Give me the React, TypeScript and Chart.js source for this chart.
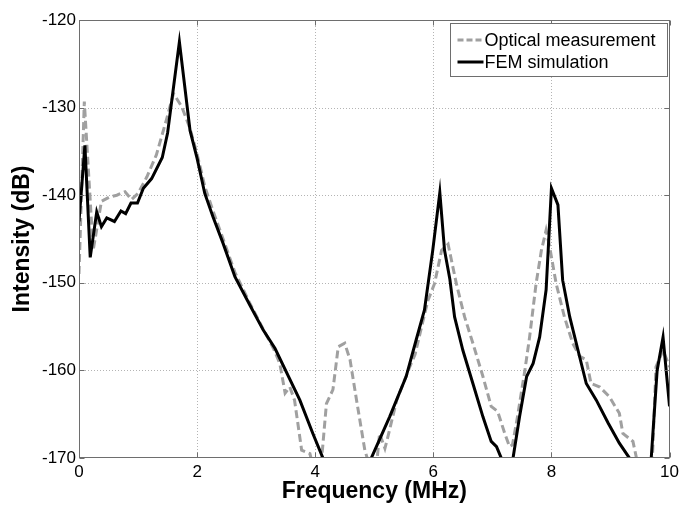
import React, { useEffect, useRef } from "react";
import { Chart, registerables } from "chart.js";

Chart.register(...registerables);

// ---- data ----
const xTicks = [0, 2, 4, 6, 8, 10];
const yTicks = [-170, -160, -150, -140, -130, -120];

const opticalLabel = "Optical measurement";
const opticalX = [0.0, 0.09, 0.24, 0.38, 0.52, 0.64, 0.78, 0.89, 1.0, 1.15, 1.31, 1.48, 1.6, 1.74, 1.88, 2.0, 2.13, 2.27, 2.44, 2.64, 2.89, 3.12, 3.3, 3.4, 3.49, 3.57, 3.65, 3.77, 3.91, 4.0, 4.11, 4.19, 4.3, 4.39, 4.5, 4.59, 4.7, 4.84, 4.88, 4.97, 5.05, 5.09, 5.18, 5.23, 5.38, 5.6, 5.69, 5.83, 5.91, 6.02, 6.14, 6.25, 6.39, 6.53, 6.67, 6.84, 6.98, 7.09, 7.21, 7.29, 7.34, 7.42, 7.55, 7.63, 7.74, 7.83, 7.91, 7.97, 8.08, 8.22, 8.36, 8.48, 8.59, 8.67, 8.82, 8.98, 9.15, 9.21, 9.38, 9.44, 9.58, 9.71, 9.77, 9.89, 10.0];
const opticalY = [-149.0, -129.3, -146.3, -140.7, -140.2, -140.0, -139.6, -140.5, -139.8, -137.9, -135.4, -131.4, -128.4, -129.9, -132.4, -135.3, -139.0, -141.8, -145.0, -148.8, -152.3, -155.3, -157.6, -159.2, -162.6, -161.9, -163.4, -169.1, -169.5, -172.0, -170.0, -163.8, -162.2, -157.3, -156.9, -158.8, -163.4, -169.1, -170.0, -173.0, -170.0, -167.2, -168.9, -167.6, -163.4, -159.6, -158.2, -154.2, -152.0, -150.1, -146.3, -145.6, -150.1, -153.9, -156.9, -160.7, -164.1, -164.7, -167.2, -168.7, -168.5, -165.5, -160.0, -156.2, -150.1, -146.3, -144.0, -145.9, -150.1, -153.9, -156.9, -158.4, -158.8, -161.5, -161.9, -163.0, -164.9, -167.2, -168.1, -170.0, -174.0, -170.0, -159.6, -157.7, -159.6];

const femLabel = "FEM simulation";
const femX = [0.0, 0.1, 0.19, 0.3, 0.38, 0.47, 0.6, 0.71, 0.79, 0.88, 0.99, 1.09, 1.23, 1.41, 1.5, 1.7, 1.88, 2.0, 2.13, 2.27, 2.44, 2.64, 2.89, 3.12, 3.32, 3.74, 3.96, 4.13, 4.3, 4.8, 4.95, 5.26, 5.54, 5.71, 5.85, 5.99, 6.11, 6.19, 6.28, 6.36, 6.5, 6.67, 6.84, 6.98, 7.07, 7.15, 7.25, 7.35, 7.46, 7.58, 7.69, 7.8, 7.91, 8.0, 8.11, 8.19, 8.31, 8.45, 8.59, 8.76, 8.96, 9.15, 9.32, 9.5, 9.69, 9.79, 9.89, 10.0];
const femY = [-143.0, -134.3, -147.1, -141.9, -143.6, -142.6, -143.0, -141.8, -142.1, -140.9, -140.9, -139.2, -138.1, -135.7, -132.9, -122.5, -132.6, -135.8, -139.8, -142.5, -145.5, -149.3, -152.5, -155.4, -157.5, -163.4, -167.2, -170.0, -174.0, -174.0, -170.0, -165.3, -160.7, -156.5, -153.1, -146.3, -139.7, -146.3, -149.6, -153.9, -157.7, -161.5, -165.3, -168.1, -168.7, -170.0, -173.0, -170.0, -165.3, -160.7, -159.2, -156.2, -150.8, -139.2, -141.1, -149.7, -153.9, -157.7, -161.5, -163.4, -166.0, -168.3, -170.0, -174.0, -170.0, -160.0, -156.2, -164.1];

const FONT = "'Liberation Sans', Arial, Helvetica, sans-serif";
const BOX = "#6e6e6e";

const toPts = (xs: number[], ys: number[]) => xs.map((x, i) => ({ x, y: ys[i] }));

const framePlugin = {
  id: "frame",
  beforeDatasetsDraw(chart: any) {
    const { ctx, chartArea, scales } = chart;
    const { left, right, top, bottom } = chartArea;
    ctx.save();
    ctx.strokeStyle = "#b4b4b4";
    ctx.lineWidth = 1;
    ctx.setLineDash([1, 2]);
    xTicks.forEach((v) => {
      const px = Math.round(scales.x.getPixelForValue(v)) + 0.5;
      if (px <= left + 1 || px >= right - 1) return;
      ctx.beginPath();
      ctx.moveTo(px, top);
      ctx.lineTo(px, bottom);
      ctx.stroke();
    });
    yTicks.forEach((v) => {
      const py = Math.round(scales.y.getPixelForValue(v)) + 0.5;
      if (py <= top + 1 || py >= bottom - 1) return;
      ctx.beginPath();
      ctx.moveTo(left, py);
      ctx.lineTo(right, py);
      ctx.stroke();
    });
    ctx.restore();
  },
  afterDatasetsDraw(chart: any) {
    const { ctx, chartArea, scales } = chart;
    const { left, right, top, bottom } = chartArea;
    ctx.save();
    ctx.strokeStyle = BOX;
    ctx.lineWidth = 1;
    ctx.setLineDash([]);
    const l = Math.round(left) + 0.5;
    const r = Math.round(right) - 0.5;
    const t = Math.round(top) + 0.5;
    const b = Math.round(bottom) - 0.5;
    ctx.strokeRect(l, t, r - l, b - t);
    const tl = 5;
    ctx.beginPath();
    xTicks.forEach((v) => {
      const px = Math.round(scales.x.getPixelForValue(v)) + 0.5;
      ctx.moveTo(px, b);
      ctx.lineTo(px, b - tl);
      ctx.moveTo(px, t);
      ctx.lineTo(px, t + tl);
    });
    yTicks.forEach((v) => {
      const py = Math.round(scales.y.getPixelForValue(v)) + 0.5;
      ctx.moveTo(l, py);
      ctx.lineTo(l + tl, py);
      ctx.moveTo(r, py);
      ctx.lineTo(r - tl, py);
    });
    ctx.stroke();

    // legend box
    const bx = Math.round(right) - 220 + 0.5;
    const by = Math.round(top) + 3 + 0.5;
    const bw = 217;
    const bh = 53;
    ctx.fillStyle = "#ffffff";
    ctx.fillRect(bx, by, bw, bh);
    ctx.strokeStyle = BOX;
    ctx.lineWidth = 1;
    ctx.strokeRect(bx, by, bw, bh);
    const ds = chart.data.datasets;
    ctx.font = `18px ${FONT}`;
    ctx.textBaseline = "middle";
    ctx.textAlign = "left";
    ds.forEach((d: any, i: number) => {
      const ry = by + 16.5 + i * 22;
      ctx.save();
      ctx.strokeStyle = d.borderColor;
      ctx.lineWidth = 3;
      ctx.setLineDash(d.borderDash && d.borderDash.length ? [6, 3] : []);
      ctx.beginPath();
      ctx.moveTo(bx + 7, ry);
      ctx.lineTo(bx + 33, ry);
      ctx.stroke();
      ctx.restore();
      ctx.fillStyle = "#000";
      ctx.fillText(d.label, bx + 34, ry + 1);
    });
    ctx.restore();
  },
};

export default function App() {
  const ref = useRef<HTMLCanvasElement | null>(null);
  useEffect(() => {
    if (!ref.current) return;
    const chart = new Chart(ref.current, {
      type: "line",
      data: {
        datasets: [
          {
            label: opticalLabel,
            data: toPts(opticalX, opticalY),
            borderColor: "#a0a0a0",
            borderWidth: 3,
            borderDash: [8, 4],
            pointRadius: 0,
            tension: 0,
            fill: false,
            clip: 0,
            order: 1,
          },
          {
            label: femLabel,
            data: toPts(femX, femY),
            borderColor: "#000000",
            borderWidth: 3,
            pointRadius: 0,
            tension: 0,
            fill: false,
            clip: 0,
            order: 0,
          },
        ],
      },
      options: {
        animation: false,
        responsive: false,
        devicePixelRatio: 1,
        layout: { padding: { top: 20, right: 13, left: 0, bottom: 0 } },
        plugins: { legend: { display: false }, tooltip: { enabled: false } },
        scales: {
          x: {
            type: "linear",
            min: 0,
            max: 10,
            afterFit: (s: any) => {
              s.height = 48;
            },
            afterBuildTicks: (s: any) => {
              s.ticks = xTicks.map((v) => ({ value: v }));
            },
            grid: { display: false, drawTicks: false },
            border: { display: false },
            ticks: {
              color: "#000",
              padding: 4,
              maxRotation: 0,
              font: { family: FONT, size: 17 },
            },
            title: {
              display: true,
              text: "Frequency (MHz)",
              color: "#000",
              font: { family: FONT, size: 23, weight: "bold", lineHeight: 1.2 },
              padding: { top: 0, bottom: 1 },
            },
          },
          y: {
            type: "linear",
            min: -170,
            max: -120,
            afterFit: (s: any) => {
              s.width = 79;
            },
            afterBuildTicks: (s: any) => {
              s.ticks = yTicks.map((v) => ({ value: v }));
            },
            grid: { display: false, drawTicks: false },
            border: { display: false },
            ticks: {
              color: "#000",
              padding: 3,
              font: { family: FONT, size: 17 },
            },
            title: {
              display: true,
              text: "Intensity (dB)",
              color: "#000",
              font: { family: FONT, size: 23, weight: "bold", lineHeight: 1.2 },
              padding: { top: 9, bottom: 0 },
            },
          },
        },
      },
      plugins: [framePlugin],
    });
    return () => chart.destroy();
  }, []);
  return (
    <div style={{ position: "absolute", left: 0, top: 0, width: 683, height: 506, background: "#fff" }}>
      <canvas ref={ref} width={683} height={506} style={{ display: "block" }} />
    </div>
  );
}
